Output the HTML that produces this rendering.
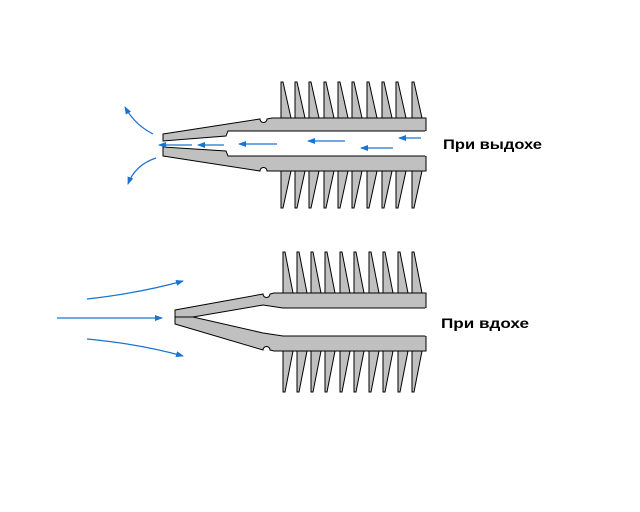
<!DOCTYPE html>
<html><head><meta charset="utf-8"><style>html,body{margin:0;padding:0;background:#fff}svg{display:block}</style></head>
<body>
<svg width="640" height="512" viewBox="0 0 640 512" xmlns="http://www.w3.org/2000/svg">
<defs>
<marker id="a" markerWidth="8" markerHeight="6" refX="7" refY="3" orient="auto" markerUnits="userSpaceOnUse"><path d="M0,0 L8,3 L0,6 Z" fill="#1a73d0"/></marker>
</defs>
<g stroke="#000" stroke-width="1" fill="#c0c0c0">
<!-- top device -->
<path d="M163,134 L260,119 A3,3 0 0 0 267,119 L272,118 L426,118 L426,131 L282,131 L228,131 L226,136 L163,141 Z"/>
<path d="M163,156 L260,171 A3,3 0 0 1 267,171 L272,171 L426,171 L426,156 L228,156 L226,151 L163,147 Z"/>
<path d="M281,82 L283,82 L291,118 L281,118Z M295,82 L297,82 L305,118 L295,118Z M309,82 L311,82 L319,118 L309,118Z M324,82 L326,82 L334,118 L324,118Z M338,82 L340,82 L348,118 L338,118Z M352,82 L354,82 L362,118 L352,118Z M367,82 L369,82 L377,118 L367,118Z M382,82 L384,82 L392,118 L382,118Z M396,82 L398,82 L406,118 L396,118Z M412,82 L414,82 L422,118 L412,118Z"/>
<path d="M281,208 L283,208 L291,171 L281,171Z M295,208 L297,208 L305,171 L295,171Z M309,208 L311,208 L319,171 L309,171Z M324,208 L326,208 L334,171 L324,171Z M338,208 L340,208 L348,171 L338,171Z M352,208 L354,208 L362,171 L352,171Z M367,208 L369,208 L377,171 L367,171Z M382,208 L384,208 L392,171 L382,171Z M396,208 L398,208 L406,171 L396,171Z M412,208 L414,208 L422,171 L412,171Z"/>
<!-- bottom device -->
<path d="M175,310 L263,294 A3,3 0 0 0 270,294 L274,293 L426,293 L426,308 L283,308 L263,305 L193,317 L175,317 Z"/>
<path d="M175,324 L263,350 A3,3 0 0 1 270,350 L274,351 L426,351 L426,336 L283,336 L263,333 L193,317 L175,317 Z"/>
<path d="M283,252 L285,252 L293,293 L283,293Z M297,252 L299,252 L307,293 L297,293Z M311,252 L313,252 L321,293 L311,293Z M325,252 L327,252 L335,293 L325,293Z M340,252 L342,252 L350,293 L340,293Z M354,252 L356,252 L364,293 L354,293Z M369,252 L371,252 L379,293 L369,293Z M383,252 L385,252 L393,293 L383,293Z M398,252 L400,252 L408,293 L398,293Z M412,252 L414,252 L422,293 L412,293Z"/>
<path d="M283,392 L285,392 L293,351 L283,351Z M297,392 L299,392 L307,351 L297,351Z M311,392 L313,392 L321,351 L311,351Z M325,392 L327,392 L335,351 L325,351Z M340,392 L342,392 L350,351 L340,351Z M354,392 L356,392 L364,351 L354,351Z M369,392 L371,392 L379,351 L369,351Z M383,392 L385,392 L393,351 L383,351Z M398,392 L400,392 L408,351 L398,351Z M412,392 L414,392 L422,351 L412,351Z"/>
</g>
<line x1="426" y1="131" x2="426" y2="156" stroke="#fff" stroke-width="1.5"/>
<line x1="426" y1="308" x2="426" y2="336" stroke="#fff" stroke-width="1.5"/>
<g stroke="#1a73d0" stroke-width="1.2" fill="none" marker-end="url(#a)">
<line x1="192" y1="145" x2="159" y2="145"/>
<line x1="224" y1="145" x2="198" y2="145"/>
<line x1="277" y1="144" x2="239" y2="144"/>
<line x1="345" y1="141" x2="308" y2="141"/>
<line x1="393" y1="148" x2="361" y2="148"/>
<line x1="421" y1="138" x2="399" y2="138"/>
<path d="M153,134 Q135,125 125,107"/>
<path d="M156,158 Q135,165 128,184"/>
<line x1="57" y1="318" x2="162" y2="318"/>
<path d="M87,299 Q140,293 183,281"/>
<path d="M87,339 Q140,344 183,356"/>
</g>
<g font-family="Liberation Sans, sans-serif" font-size="14" font-weight="bold" fill="#000">
<text x="443" y="149" textLength="99" lengthAdjust="spacingAndGlyphs">При выдохе</text>
<text x="441" y="328" textLength="88" lengthAdjust="spacingAndGlyphs">При вдохе</text>
</g>
</svg>
</body></html>
